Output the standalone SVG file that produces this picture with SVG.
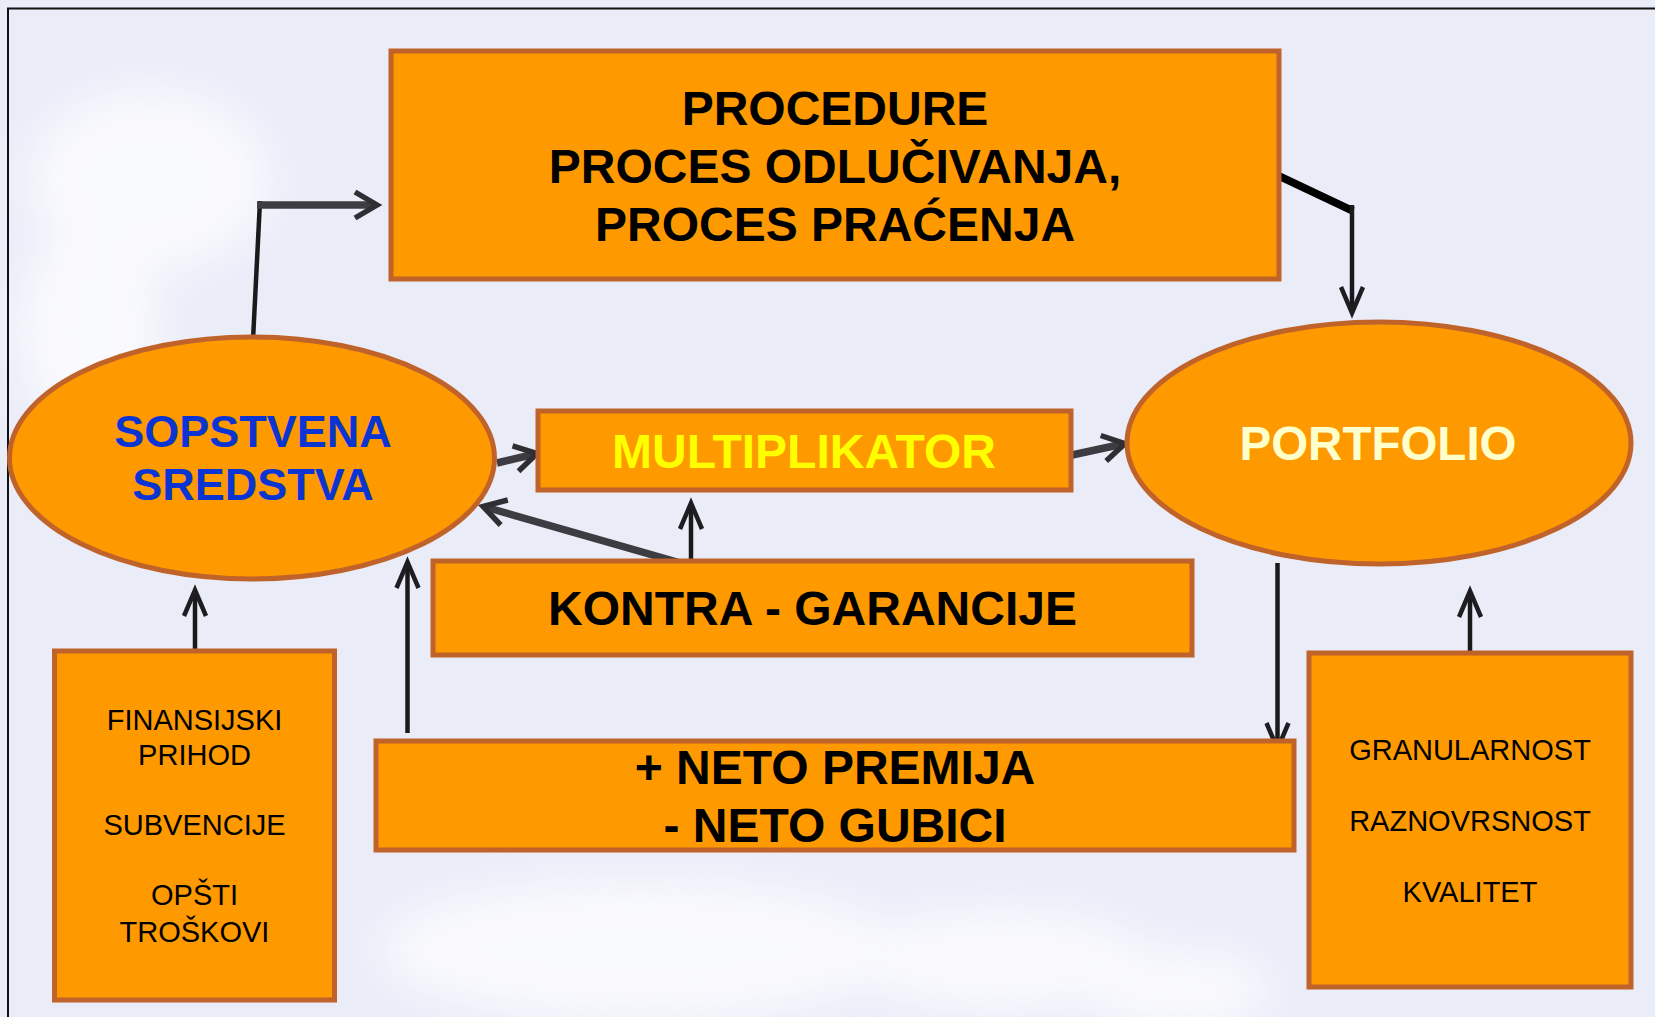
<svg xmlns="http://www.w3.org/2000/svg" width="1655" height="1017" viewBox="0 0 1655 1017">
<style>
.box{fill:#FE9900;stroke:#C0632A;stroke-width:5}
.t{font-family:"Liberation Sans",Arial,sans-serif;text-anchor:middle}
.b48{font-size:48px;font-weight:bold;fill:#000}
.r29{font-size:29px;fill:#000}
.thick{stroke:#3C3C42;stroke-width:7.5;fill:none}
.thin{stroke:#1A1A1C;stroke-width:4.5;fill:none}
</style>
<defs>
<filter id="blur" x="-50%" y="-50%" width="200%" height="200%"><feGaussianBlur stdDeviation="22"/></filter>
<marker id="ahT" markerUnits="userSpaceOnUse" viewBox="-4 -18 32 36" markerWidth="32" markerHeight="36" refX="20" refY="0" orient="auto" overflow="visible">
<path d="M0,-13 L22,0 L0,13" fill="none" stroke="#2E2E33" stroke-width="5.5" stroke-linejoin="miter"/>
</marker>
<marker id="ahN" markerUnits="userSpaceOnUse" viewBox="-4 -16 34 32" markerWidth="34" markerHeight="32" refX="24" refY="0" orient="auto" overflow="visible">
<path d="M0,-11 L26,0 L0,11" fill="none" stroke="#1E1E22" stroke-width="4.5" stroke-linejoin="miter"/>
</marker>
</defs>
<rect x="0" y="0" width="1655" height="1017" fill="#EAECF8"/>
<g filter="url(#blur)" fill="#FFFFFF" opacity="0.75">
<ellipse cx="150" cy="180" rx="120" ry="90"/>
<ellipse cx="90" cy="330" rx="70" ry="110"/>
<ellipse cx="640" cy="950" rx="260" ry="70"/>
<ellipse cx="1000" cy="960" rx="150" ry="50"/>
<ellipse cx="1180" cy="990" rx="90" ry="40"/>
</g>
<path d="M8,1030 L8,8.5 L1670,8.5" fill="none" stroke="#111" stroke-width="2"/>

<g id="connectors">
<path class="thin" d="M253,340 L260,201" stroke-width="5"/>
<path class="thick" d="M257,205 L375,205" stroke-width="8.5" marker-end="url(#ahT)"/>
<path d="M1279,176 L1353,211" stroke="#000" stroke-width="8" fill="none"/>
<path class="thin" d="M1352,205 L1352,311" marker-end="url(#ahN)"/>
<path class="thick" d="M497,463 L535,454" marker-end="url(#ahT)"/>
<path class="thick" d="M1072,455 L1123,444" marker-end="url(#ahT)"/>
<path class="thick" d="M691,566 L485,507" marker-end="url(#ahT)"/>
<path class="thin" d="M691,566 L691,505" marker-end="url(#ahN)"/>
<path class="thin" d="M407.5,733 L407.5,564" marker-end="url(#ahN)"/>
<path class="thin" d="M195,651 L195,592" marker-end="url(#ahN)"/>
<path class="thin" d="M1277.5,563 L1277.5,747" marker-end="url(#ahN)"/>
<path class="thin" d="M1470,653 L1470,593" marker-end="url(#ahN)"/>
</g>

<g id="procedure">
<rect class="box" x="391" y="51" width="888" height="228"/>
<text class="t b48" x="835" y="125">PROCEDURE</text>
<text class="t b48" x="835" y="183">PROCES ODLUČIVANJA,</text>
<text class="t b48" x="835" y="241">PROCES PRAĆENJA</text>
</g>

<g id="sopstvena">
<ellipse cx="252" cy="458" rx="242.5" ry="121" fill="#FE9900" stroke="#C0632A" stroke-width="5"/>
<text class="t" x="253" y="447" font-size="45" font-weight="bold" fill="#0A35D2">SOPSTVENA</text>
<text class="t" x="253" y="500" font-size="45" font-weight="bold" fill="#0A35D2">SREDSTVA</text>
</g>

<g id="multiplikator">
<rect class="box" x="538" y="411" width="533" height="79"/>
<text class="t" x="804" y="468" font-size="48" font-weight="bold" fill="#FFFF00">MULTIPLIKATOR</text>
</g>

<g id="portfolio">
<ellipse cx="1379" cy="443" rx="252" ry="121" fill="#FE9900" stroke="#C0632A" stroke-width="5"/>
<text class="t" x="1378" y="460" font-size="47.5" font-weight="bold" fill="#FFFFCC">PORTFOLIO</text>
</g>

<g id="kontra">
<rect class="box" x="433" y="561" width="759" height="94"/>
<text class="t b48" x="812.5" y="625">KONTRA - GARANCIJE</text>
</g>

<g id="neto">
<rect class="box" x="376" y="741" width="918" height="109"/>
<text class="t b48" x="835" y="784">+ NETO PREMIJA</text>
<text class="t b48" x="835" y="842">- NETO GUBICI</text>
</g>

<g id="finansijski">
<rect class="box" x="54.5" y="651" width="280" height="349"/>
<text class="t r29" x="194.5" y="730">FINANSIJSKI</text>
<text class="t r29" x="194.5" y="765">PRIHOD</text>
<text class="t r29" x="194.5" y="835">SUBVENCIJE</text>
<text class="t r29" x="194.5" y="905">OPŠTI</text>
<text class="t r29" x="194.5" y="942">TROŠKOVI</text>
</g>

<g id="granularnost">
<rect class="box" x="1309" y="653" width="322" height="334"/>
<text class="t r29" x="1470" y="760">GRANULARNOST</text>
<text class="t r29" x="1470" y="831">RAZNOVRSNOST</text>
<text class="t r29" x="1470" y="902">KVALITET</text>
</g>
</svg>
